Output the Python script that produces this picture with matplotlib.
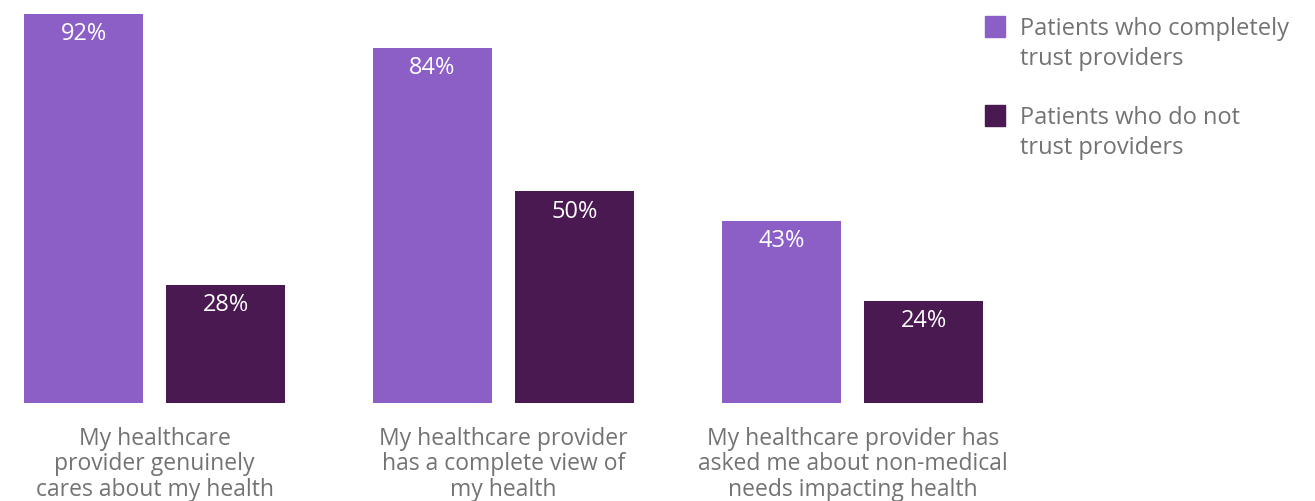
import matplotlib.pyplot as plt
from matplotlib.patches import Rectangle
import numpy as np

categories = [
    "My healthcare\nprovider genuinely\ncares about my health",
    "My healthcare provider\nhas a complete view of\nmy health",
    "My healthcare provider has\nasked me about non-medical\nneeds impacting health",
]
trust = [92, 84, 43]
no_trust = [28, 50, 24]
series_names = ["Patients who completely\ntrust providers", "Patients who do not\ntrust providers"]

light = "#8C5FC6"
dark = "#4A1952"
gray = "#737373"

plt.rcParams['font.family'] = ['Open Sans', 'DejaVu Sans']

fig = plt.figure(figsize=(13.15, 5.01), dpi=100)
# axes placed in pixel units of the reference
W, H = 1315, 501
ax = fig.add_axes([0, 98 / H, 1000 / W, 403 / H])

x = np.arange(len(categories))
width = 0.341
off = 0.204
b1 = ax.bar(x - off, trust, width, color=light, label=series_names[0])
b2 = ax.bar(x + off, no_trust, width, color=dark, label=series_names[1])

ax.set_xlim(-0.4434, -0.4434 + 1000 / 349)
ax.set_ylim(0, 403 / 4.23)

for bars in (b1, b2):
    for rect in bars:
        h = rect.get_height()
        ax.annotate(f"{h:.0f}%", (rect.get_x() + rect.get_width() / 2, h),
                    xytext=(0, -20), textcoords="offset pixels",
                    ha="center", va="center", color="white", fontsize=17)

ax.set_xticks(x)
ax.set_xticklabels(categories, fontsize=16.5, color=gray, linespacing=1.1)
ax.tick_params(axis='x', length=0, pad=17)
ax.set_yticks([])
for s in ax.spines.values():
    s.set_visible(False)

# legend drawn by hand so the swatch sits next to the first line
for i, (name, col) in enumerate(zip(series_names, [light, dark])):
    top = 16 + i * 89
    fig.patches.append(Rectangle((985 / W, 1 - (top + 21) / H), 20 / W, 21 / H,
                                 transform=fig.transFigure, color=col))
    fig.text(1020 / W, 1 - (top + 1) / H, name, ha="left", va="top",
             fontsize=17, color=gray, linespacing=1.35)

fig.savefig("out.png", dpi=100)
